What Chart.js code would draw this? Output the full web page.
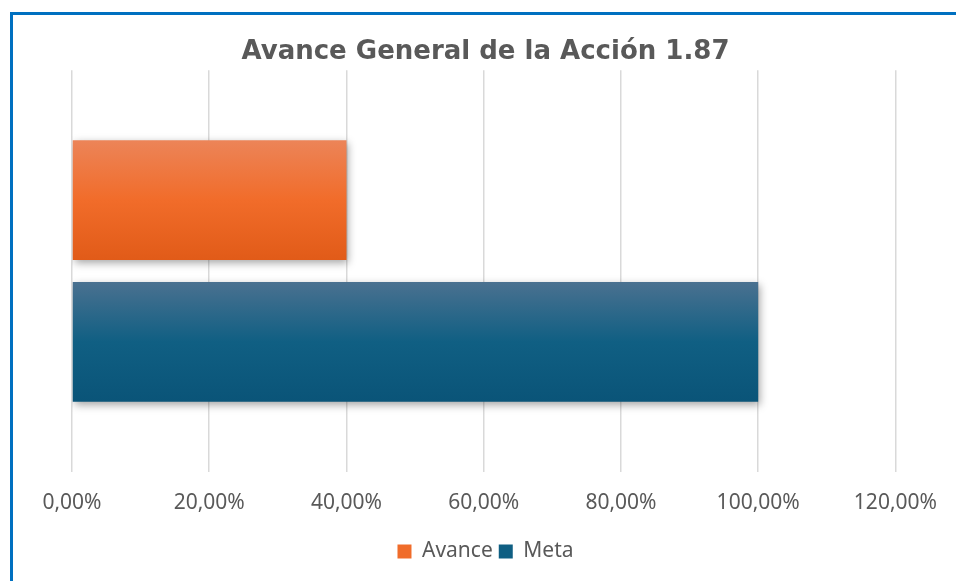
<!DOCTYPE html>
<html>
<head>
<meta charset="utf-8">
<script src="https://cdn.jsdelivr.net/npm/chart.js@4.4.1/dist/chart.umd.min.js"></script>
<style>
  html, body { margin: 0; padding: 0; background: #fff; overflow: hidden; }
  #frame {
    position: absolute; left: 10px; top: 12px; width: 960px; height: 600px;
    border-left: 3px solid #0070C0; border-top: 3px solid #0070C0;
  }
  #wrap { position: absolute; left: 0; top: 0; width: 956px; height: 581px; }
</style>
</head>
<body>
<div id="frame"></div>
<div id="wrap"><canvas id="chart"></canvas></div>
<script>
/* ===== data ===== */
const categories = [""];
const seriesNames = ["Avance", "Meta"];
const avanceValues = [0.40];
const metaValues = [1.00];
const xTicks = [0, 0.2, 0.4, 0.6, 0.8, 1.0, 1.2];

/* ===== styles ===== */
const textColor = "#595959";
const tickFont = { family: "'Noto Sans', 'Open Sans', sans-serif", size: 21 };
const catPct = 0.706;
const barPct = 0.845;

// gradient stops per series: top, middle, bottom
const gradStops = [
  ["#EC8458", "#F16C2A", "#E15B18"],
  ["#4A7190", "#105F83", "#0A5478"],
];

function barGradient(context) {
  const chart = context.chart;
  const y = chart.scales.y;
  const c = chart.ctx;
  const stops = gradStops[context.datasetIndex];
  if (!y || !chart.chartArea) return stops[1];
  const band = y.bottom - y.top;
  const group = band * catPct;
  const slot = group / 2;
  const top = y.top + (band - group) / 2 + context.datasetIndex * slot + slot * (1 - barPct) / 2;
  const bottom = top + slot * barPct;
  const g = c.createLinearGradient(0, top, 0, bottom);
  g.addColorStop(0, stops[0]);
  g.addColorStop(0.5, stops[1]);
  g.addColorStop(1, stops[2]);
  return g;
}

// soft drop shadow under the bars
const barShadow = {
  id: "barShadow",
  beforeDatasetsDraw(chart) {
    const c = chart.ctx;
    c.save();
    c.shadowColor = "rgba(0,0,0,0.35)";
    c.shadowBlur = 8;
    c.shadowOffsetX = 2;
    c.shadowOffsetY = 3;
  },
  afterDatasetsDraw(chart) {
    chart.ctx.restore();
  },
};

new Chart(document.getElementById("chart"), {
  type: "bar",
  data: {
    labels: categories,
    datasets: [
      { label: seriesNames[0], data: avanceValues, backgroundColor: barGradient, legendColor: "#F06C2A" },
      { label: seriesNames[1], data: metaValues, backgroundColor: barGradient, legendColor: "#0F5F83" },
    ],
  },
  options: {
    indexAxis: "y",
    responsive: true,
    maintainAspectRatio: false,
    animation: false,
    devicePixelRatio: 1,
    categoryPercentage: catPct,
    barPercentage: barPct,
    layout: { padding: { left: 72, right: 57, top: 28, bottom: 9 } },
    plugins: {
      title: {
        display: true,
        text: "Avance General de la Acción 1.87",
        color: textColor,
        font: { family: "'DejaVu Sans', Verdana, sans-serif", size: 26, weight: "bold" },
        padding: { top: 9, bottom: 2 },
      },
      legend: {
        position: "bottom",
        labels: {
          color: textColor,
          font: tickFont,
          boxWidth: 14,
          boxHeight: 14,
          padding: 6,
          generateLabels: (chart) => chart.data.datasets.map((ds, i) => ({
            text: ds.label,
            fillStyle: ds.legendColor,
            strokeStyle: ds.legendColor,
            lineWidth: 0,
            fontColor: textColor,
            datasetIndex: i,
          })),
        },
      },
      tooltip: { enabled: false },
    },
    scales: {
      x: {
        min: 0,
        max: 1.2,
        afterBuildTicks: (axis) => { axis.ticks = xTicks.map(v => ({ value: v })); },
        grid: { color: "#D9D9D9", lineWidth: 1.5, drawTicks: false },
        border: { display: false },
        ticks: {
          color: textColor,
          font: tickFont,
          padding: 19,
          callback: (v) => (v * 100).toFixed(2).replace(".", ",") + "%",
        },
      },
      y: {
        display: false,
      },
    },
  },
  plugins: [barShadow],
});
</script>
</body>
</html>
